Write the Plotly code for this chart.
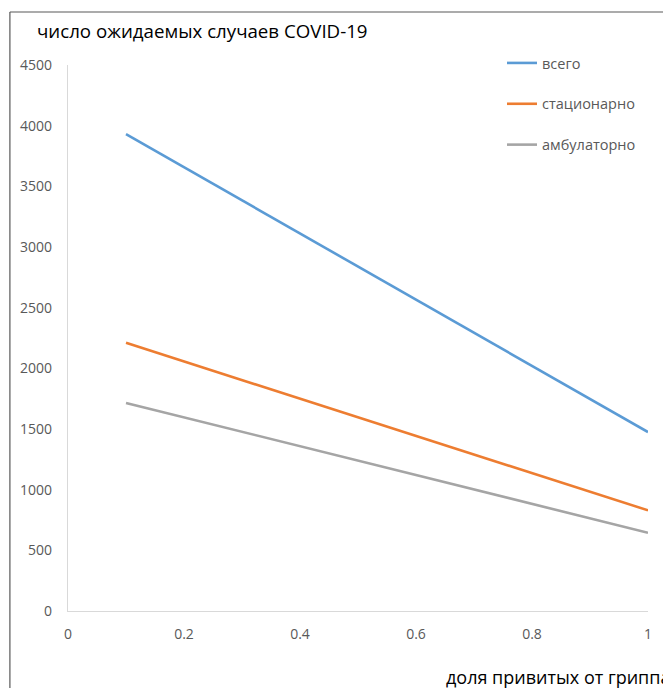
import plotly.graph_objects as go

x_vals = [0.1, 1.0]
series_names = ["всего", "стационарно", "амбулаторно"]
total = [3930, 1475]
inpatient = [2210, 830]
outpatient = [1715, 645]
colors = ["#5B9BD5", "#ED7D31", "#A5A5A5"]
y_ticks = [0, 500, 1000, 1500, 2000, 2500, 3000, 3500, 4000, 4500]
x_ticks = [0, 0.2, 0.4, 0.6, 0.8, 1]
x_tick_labels = ["0", "0.2", "0.4", "0.6", "0.8", "1"]

W, H = 663, 688
L, R, T, B = 68, 652, 65, 611

def px(xp):
    return (xp - L) / (R - L)

def py(yp):
    return (B - yp) / (B - T)

FONT = "Open Sans"

fig = go.Figure()
for i, (name, vals) in enumerate(zip(series_names, [total, inpatient, outpatient])):
    fig.add_trace(go.Scatter(x=x_vals, y=vals, mode="lines", name=name,
                             legendgroup=name, cliponaxis=False,
                             line=dict(color=colors[i], width=2.6)))

fig.update_layout(
    width=W, height=H,
    margin=dict(l=L, r=W - R, t=T, b=H - B),
    plot_bgcolor="white", paper_bgcolor="white",
    font=dict(family=FONT, color="#595959", size=14),
    xaxis=dict(range=[0, 1], tickvals=x_ticks, ticktext=x_tick_labels,
               showgrid=False, zeroline=False, showline=True,
               linecolor="#d9d9d9", linewidth=1.2, ticks="",
               ticklabelstandoff=10,
               tickfont=dict(size=14, color="#595959")),
    yaxis=dict(range=[0, 4500], tickvals=y_ticks,
               showgrid=False, zeroline=False, showline=True,
               linecolor="#d9d9d9", linewidth=1.2, ticks="",
               ticklabelstandoff=12,
               tickfont=dict(size=14, color="#595959")),
    showlegend=True,
    legend=dict(x=px(505), y=py(47), xanchor="left", yanchor="top",
                bgcolor="rgba(0,0,0,0)", tracegroupgap=19,
                font=dict(size=14.5, color="#595959"), itemwidth=30),
)

fig.add_annotation(text="число ожидаемых случаев COVID-19", xref="paper", yref="paper",
                   x=px(35), y=py(30), xanchor="left", yanchor="middle",
                   showarrow=False, font=dict(size=18.7, color="#000000", family=FONT))
fig.add_annotation(text="доля привитых от гриппа", xref="paper", yref="paper",
                   x=px(447), y=py(677), xanchor="left", yanchor="middle",
                   showarrow=False, font=dict(size=18, color="#000000", family=FONT))

# chart frame (left and top edges visible)
fig.add_shape(type="line", xref="paper", yref="paper",
              x0=px(9.5), x1=px(9.5), y0=py(12), y1=py(720),
              line=dict(color="#595959", width=1.2))
fig.add_shape(type="line", xref="paper", yref="paper",
              x0=px(9.5), x1=px(720), y0=py(12), y1=py(12),
              line=dict(color="#595959", width=1.2))

fig.write_html("out.html",
               config={"displayModeBar": False},
               post_script="document.body.style.margin='0';document.body.style.overflow='hidden';")
